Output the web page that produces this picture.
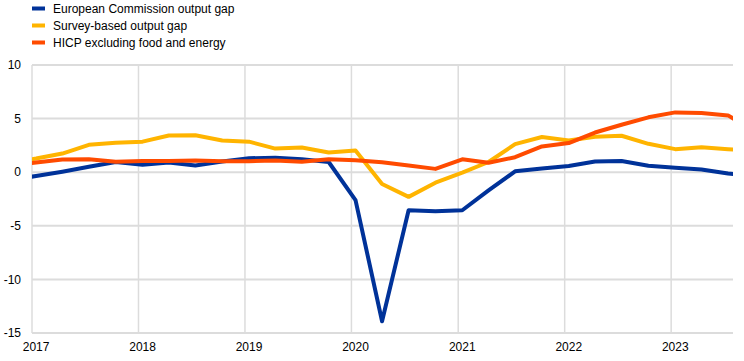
<!DOCTYPE html>
<html>
<head>
<meta charset="utf-8">
<script src="https://cdn.jsdelivr.net/npm/d3@7"></script>
<style>
  body { margin: 0; background: #fff; }
  svg { display: block; font-family: 'Liberation Sans', Arial, sans-serif; }
</style>
</head>
<body>
<div id="chart"></div>
<script>
// quarterly observations, 2016 Q4 to 2023 Q4 (edges get clipped by the plot)
const quarters = [
  '2016Q4',
  '2017Q1', '2017Q2', '2017Q3', '2017Q4',
  '2018Q1', '2018Q2', '2018Q3', '2018Q4',
  '2019Q1', '2019Q2', '2019Q3', '2019Q4',
  '2020Q1', '2020Q2', '2020Q3', '2020Q4',
  '2021Q1', '2021Q2', '2021Q3', '2021Q4',
  '2022Q1', '2022Q2', '2022Q3', '2022Q4',
  '2023Q1', '2023Q2', '2023Q3', '2023Q4',
];

const ecOutputGap = [
  -0.75,
  -0.35, 0.05, 0.5, 0.95,
  0.7, 0.9, 0.62, 1.0,
  1.3, 1.35, 1.2, 0.95,
  -2.6, -13.9, -3.55, -3.65,
  -3.55, -1.7, 0.08, 0.35,
  0.58, 1.0, 1.05, 0.6,
  0.42, 0.26, -0.12, -0.35,
];

const surveyOutputGap = [
  0.85,
  1.27, 1.74, 2.55, 2.75,
  2.85, 3.43, 3.45, 2.95,
  2.85, 2.2, 2.3, 1.84,
  2.02, -1.1, -2.3, -0.98,
  -0.04, 0.95, 2.62, 3.28,
  2.95, 3.3, 3.4, 2.65,
  2.15, 2.33, 2.14, 2.0,
];

const hicpCore = [
  0.6,
  0.9, 1.18, 1.2, 0.97,
  1.05, 1.05, 1.08, 1.03,
  1.03, 1.1, 0.97, 1.2,
  1.12, 0.92, 0.62, 0.31,
  1.2, 0.88, 1.4, 2.4,
  2.72, 3.7, 4.43, 5.12,
  5.58, 5.53, 5.3, 3.8,
];

const seriesNames = [
  'European Commission output gap',
  'Survey-based output gap',
  'HICP excluding food and energy',
];
const seriesColors = ['#003299', '#ffb400', '#ff4b00'];

const yTicks = [-15, -10, -5, 0, 5, 10];
const yearTicks = [2017, 2018, 2019, 2020, 2021, 2022, 2023];

const width = 744;
const height = 361;
const margin = { top: 65, right: 11, bottom: 28, left: 32 };

// a quarter is plotted mid-way into its first month
function quarterDate(q) {
  const year = +q.slice(0, 4);
  const qi = +q.slice(5) - 1;
  return new Date(year, qi * 3, 15);
}

const svg = d3
  .select('#chart')
  .append('svg')
  .attr('width', width)
  .attr('height', height);

const xScale = d3
  .scaleTime()
  .domain([new Date(2017, 0, 1), new Date(2023, 7, 1)])
  .range([margin.left, width - margin.right]);

const yScale = d3
  .scaleLinear()
  .domain([-15, 10])
  .range([height - margin.bottom, margin.top]);

// horizontal gridlines
svg
  .append('g')
  .selectAll('line')
  .data(yTicks)
  .enter()
  .append('line')
  .attr('x1', margin.left)
  .attr('x2', width - margin.right)
  .attr('y1', (d) => yScale(d))
  .attr('y2', (d) => yScale(d))
  .attr('stroke', '#dcdcdc')
  .attr('stroke-width', 2);

// vertical gridlines at year starts
svg
  .append('g')
  .selectAll('line')
  .data(yearTicks)
  .enter()
  .append('line')
  .attr('x1', (d) => xScale(new Date(d, 0, 1)))
  .attr('x2', (d) => xScale(new Date(d, 0, 1)))
  .attr('y1', yScale(10))
  .attr('y2', yScale(-15))
  .attr('stroke', '#dcdcdc')
  .attr('stroke-width', 1.5);

// y tick labels
svg
  .append('g')
  .selectAll('text')
  .data(yTicks)
  .enter()
  .append('text')
  .attr('x', 21)
  .attr('y', (d) => yScale(d))
  .attr('dy', '0.35em')
  .attr('text-anchor', 'end')
  .style('font-size', '12px')
  .attr('fill', '#000')
  .text((d) => d);

// x tick labels, centred on each year's first quarter
svg
  .append('g')
  .selectAll('text')
  .data(yearTicks)
  .enter()
  .append('text')
  .attr('x', (d) => xScale(quarterDate(d + 'Q1')))
  .attr('y', 351)
  .attr('text-anchor', 'middle')
  .style('font-size', '12px')
  .attr('fill', '#000')
  .text((d) => d);

svg
  .append('clipPath')
  .attr('id', 'plot-clip')
  .append('rect')
  .attr('x', margin.left)
  .attr('y', 0)
  .attr('width', width - margin.right - margin.left)
  .attr('height', height);

const seriesData = [ecOutputGap, surveyOutputGap, hicpCore];

const line = d3
  .line()
  .x((d) => xScale(d.date))
  .y((d) => yScale(d.value));

// draw in reverse legend order so the blue sits under the others? reference has red on top
const drawOrder = [0, 1, 2];
svg
  .append('g')
  .attr('clip-path', 'url(#plot-clip)')
  .selectAll('path')
  .data(drawOrder)
  .enter()
  .append('path')
  .attr('fill', 'none')
  .attr('stroke', (i) => seriesColors[i])
  .attr('stroke-width', 4)
  .attr('stroke-linejoin', 'round')
  .attr('d', (i) =>
    line(quarters.map((q, k) => ({ date: quarterDate(q), value: seriesData[i][k] })))
  );

// legend
const legend = svg
  .selectAll('.legend')
  .data(seriesNames)
  .enter()
  .append('g')
  .attr('class', 'legend')
  .attr('transform', (d, i) => `translate(32,${8.5 + i * 17})`);

legend
  .append('rect')
  .attr('x', 0)
  .attr('y', -2)
  .attr('width', 13)
  .attr('height', 4)
  .attr('fill', (d, i) => seriesColors[i]);

legend
  .append('text')
  .attr('x', 21)
  .attr('y', 0)
  .attr('dy', '0.35em')
  .style('font-size', '12px')
  .attr('fill', '#000')
  .text((d) => d);
</script>
</body>
</html>
